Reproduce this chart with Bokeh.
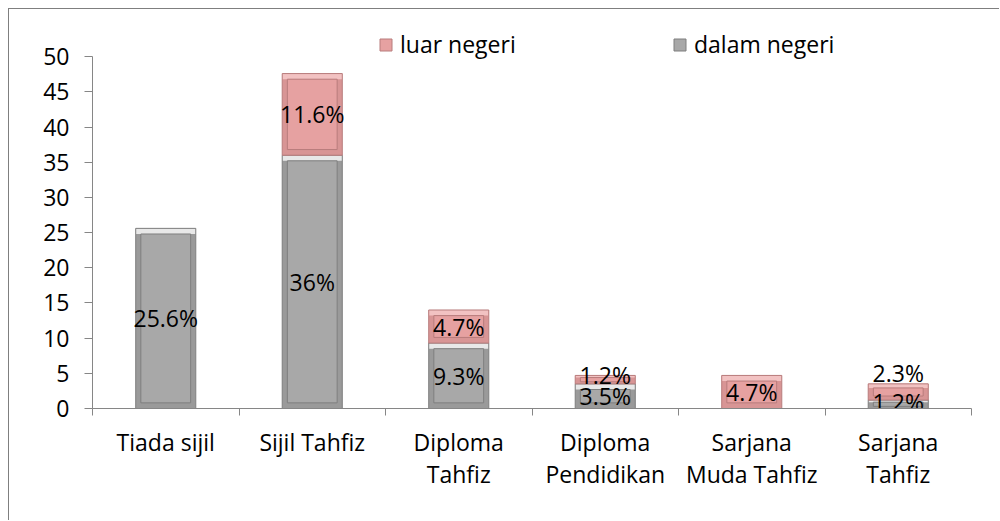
from bokeh.plotting import figure
from bokeh.models import ColumnDataSource, FixedTicker, Legend, LegendItem, Range1d
from bokeh.core.properties import value
from bokeh.embed import file_html
from bokeh.resources import INLINE

categories = ["Tiada sijil", "Sijil Tahfiz", "Diploma\nTahfiz", "Diploma\nPendidikan",
              "Sarjana\nMuda Tahfiz", "Sarjana\nTahfiz"]
dalam_negeri = [25.6, 36.0, 9.3, 3.5, 0.0, 1.2]
luar_negeri = [0.0, 11.6, 4.7, 1.2, 4.7, 2.3]
y_ticks = [0, 5, 10, 15, 20, 25, 30, 35, 40, 45, 50]

FONT = "Open Sans"
FS = "23px"
AXIS = "#868686"
# bevel palette: outline, side, highlight, face
GRAY = dict(line="#7f7f7f", side="#9a9a9a", hi="#e8e8e8", face="#a8a8a8")
PINK = dict(line="#b87c7c", side="#d89595", hi="#f2c2c2", face="#e6a1a1")

n = len(categories)
xs = [i + 0.5 for i in range(n)]
BAR_W = 0.41
INNER_W = 0.34

p = figure(width=991, height=512, x_range=Range1d(0, n), y_range=Range1d(0, 55),
           output_backend="svg", toolbar_location=None,
           min_border_left=83, min_border_right=29, min_border_top=12, min_border_bottom=113)
p.styles = {"margin-left": "8px", "margin-top": "8px",
            "border-top": "1px solid #7f7f7f", "border-left": "1px solid #7f7f7f"}
p.outline_line_color = None
p.xgrid.visible = False
p.ygrid.visible = False
p.background_fill_color = "white"
p.border_fill_color = "white"


def bevel_bar(bottoms, tops, pal):
    x, b, t, hb, ib, it = [], [], [], [], [], []
    for i in range(n):
        h = tops[i] - bottoms[i]
        if h <= 0:
            continue
        inset = min(0.8, h / 4)
        x.append(xs[i]); b.append(bottoms[i]); t.append(tops[i])
        hb.append(tops[i] - inset)
        ib.append(bottoms[i] + inset); it.append(tops[i] - inset)
    s = ColumnDataSource(dict(x=x, b=b, t=t, hb=hb, ib=ib, it=it))
    p.vbar(x="x", top="t", bottom="b", width=BAR_W, source=s,
           fill_color=pal["side"], line_color=None)
    p.vbar(x="x", top="t", bottom="hb", width=BAR_W, source=s,
           fill_color=pal["hi"], line_color=None)
    face = p.vbar(x="x", top="it", bottom="ib", width=INNER_W, source=s,
                  fill_color=pal["face"], line_color=None)
    p.vbar(x="x", top="t", bottom="b", width=BAR_W, source=s,
           fill_color=None, line_color=pal["line"], line_width=1)
    return face


luar_bottom = list(dalam_negeri)
luar_top = [d + l for d, l in zip(dalam_negeri, luar_negeri)]
r_dalam = bevel_bar([0] * n, dalam_negeri, GRAY)
r_luar = bevel_bar(luar_bottom, luar_top, PINK)
r_dalam.glyph.line_color = GRAY["line"]
r_luar.glyph.line_color = PINK["line"]

# value labels
lx, ly, lt, loff = [], [], [], []
label_shift_dalam = [0, 0, 0, 0, 0, -2]
label_shift_luar = [0, 0, 0, -5, 0, -19]
for i in range(n):
    if dalam_negeri[i] > 0:
        lx.append(xs[i]); ly.append(dalam_negeri[i] / 2)
        lt.append(f"{dalam_negeri[i]:g}%"); loff.append(label_shift_dalam[i])
    if luar_negeri[i] > 0:
        lx.append(xs[i]); ly.append(dalam_negeri[i] + luar_negeri[i] / 2)
        lt.append(f"{luar_negeri[i]:g}%"); loff.append(label_shift_luar[i])
lsrc = ColumnDataSource(dict(x=lx, y=ly, t=lt, off=loff))
p.text(x="x", y="y", text="t", y_offset="off", source=lsrc, text_align="center",
       text_baseline="middle", text_font=value(FONT), text_font_size=FS, text_color="black")

# axes
p.yaxis.ticker = FixedTicker(ticks=y_ticks)
p.yaxis.bounds = (0, 50)
p.yaxis.axis_line_color = AXIS
p.yaxis.major_tick_line_color = AXIS
p.yaxis.major_tick_out = 8
p.yaxis.major_tick_in = 0
p.yaxis.minor_tick_line_color = None
p.yaxis.major_label_standoff = 15
p.yaxis.major_label_text_font = FONT
p.yaxis.major_label_text_font_size = FS
p.yaxis.major_label_text_color = "black"

p.xaxis.ticker = FixedTicker(ticks=xs, minor_ticks=list(range(n + 1)))
p.xaxis.major_label_overrides = {x: c for x, c in zip(xs, categories)}
p.xaxis.axis_line_color = AXIS
p.xaxis.major_tick_line_color = None
p.xaxis.major_tick_out = 0
p.xaxis.major_tick_in = 0
p.xaxis.minor_tick_line_color = AXIS
p.xaxis.minor_tick_out = 7
p.xaxis.minor_tick_in = 0
p.xaxis.major_label_standoff = 10
p.xaxis.major_label_text_font = FONT
p.xaxis.major_label_text_font_size = FS
p.xaxis.major_label_text_color = "black"
p.xaxis.major_label_text_line_height = 1.0

legend = Legend(items=[LegendItem(label="luar negeri", renderers=[r_luar]),
                       LegendItem(label="dalam negeri", renderers=[r_dalam])],
                orientation="horizontal", location=(286, 348),
                glyph_width=15, glyph_height=15, label_standoff=7, label_width=272,
                spacing=0, padding=0, margin=0, border_line_alpha=0,
                background_fill_alpha=0, label_text_font=FONT, label_text_font_size=FS,
                label_text_color="black", label_height=20)
p.add_layout(legend, "center")

open("out.html", "w").write(file_html(p, INLINE))
